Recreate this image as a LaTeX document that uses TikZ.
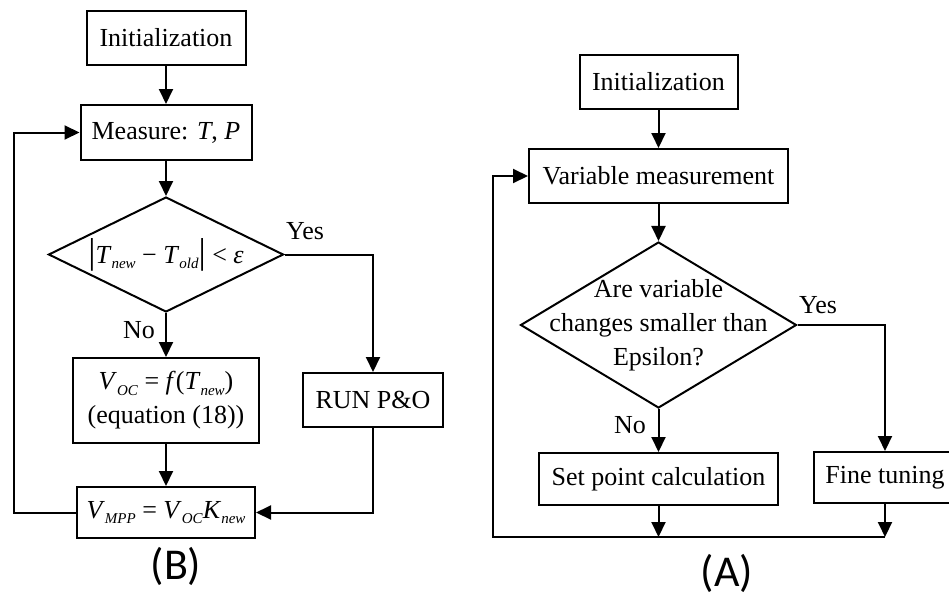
\documentclass[tikz,border=0pt]{standalone}
\usepackage{fontspec}
\setmainfont{Liberation Serif}
\newfontfamily\capfont{Carlito}
\usetikzlibrary{shapes.geometric,arrows.meta}

\tikzset{
  box/.style={rectangle,draw,line width=2pt,align=center,inner sep=0pt},
  decision/.style={diamond,draw,line width=2pt,inner sep=0pt},
  flow/.style={line width=2pt,-{Triangle[length=15pt,width=14pt]}},
}
\newcommand{\sub}[2]{\textit{#1}\raisebox{-0.22em}{\fontsize{15}{15}\selectfont\textit{#2}}}

\begin{document}
\begin{tikzpicture}[x=1pt,y=-1pt,font=\fontsize{26}{34}\selectfont]
\useasboundingbox (0,0) rectangle (949,597);

% ---- (B) ----
\begin{scope}[every node/.append style={box}]
	\node[minimum width=159,minimum height=54] (initB) at (166,38) {Initialization};
	\node[minimum width=171,minimum height=55] (measB) at (166,132.5) {Measure: \textit{T}, \textit{P}};
	\node[decision,minimum width=235,minimum height=115] (decB) at (166,254.5) {};
	\node[minimum width=186,minimum height=85] (vocB) at (166,400.5) {\sub{V}{OC} = \textit{f}(\sub{T}{new})\\(equation (18))};
	\node[minimum width=140,minimum height=54] (runB) at (373,400) {RUN P\&O};
	\node[minimum width=178,minimum height=51] (vmppB) at (166,512.5) {\sub{V}{MPP} = \sub{V}{OC}\sub{K}{new}};
\end{scope}
\node (decBtxt) at (decB.center) {{\fontsize{36}{36}\selectfont|}\sub{T}{new} − \sub{T}{old}{\fontsize{36}{36}\selectfont|} < \textit{ε}};
\node (yesB) at (305,231) {Yes};
\node (noB) at (139,330) {No};
\coordinate (loopB) at (14,0);

\draw[flow] (initB) -- (measB);
\draw[flow] (measB) -- (decB);
\draw[flow] (decB.south) -- (vocB.north);
\draw[flow] (decB.east) -| (runB.north);
\draw[flow] (vocB) -- (vmppB);
\draw[flow] (runB.south) |- (vmppB.east);
\draw[flow] (vmppB.west) -- (vmppB.west -| loopB) |- (measB.west);

\node[font=\capfont\fontsize{44}{44}\selectfont] (capB) at (176,566) {(B)};

% ---- (A) ----
\begin{scope}[every node/.append style={box}]
	\node[minimum width=158,minimum height=54] (initA) at (658.5,82) {Initialization};
	\node[minimum width=259,minimum height=54] (measA) at (658.5,176) {Variable measurement};
	\node[decision,minimum width=276,minimum height=166] (decA) at (658.5,325) {};
	\node[minimum width=239,minimum height=52] (setA) at (658.5,479) {Set point calculation};
	\node[minimum width=142,minimum height=51] (fineA) at (885,477.5) {Fine tuning};
\end{scope}
\node[align=center] (decAtxt) at (decA.center) {Are variable\\changes smaller than\\Epsilon?};
\node (yesA) at (818,305) {Yes};
\node (noA) at (630,425) {No};
\coordinate (loopA) at (493,537);

\draw[flow] (initA) -- (measA);
\draw[flow] (measA) -- (decA);
\draw[flow] (decA.south) -- (setA.north);
\draw[flow] (decA.east) -| (fineA.north);
\draw[flow] (setA.south) -- (setA.south |- loopA);
\draw[flow] (fineA.south) -- (fineA.south |- loopA);
\draw[flow] (fineA.south |- loopA) -- (loopA) |- (measA.west);

\node[font=\capfont\fontsize{44}{44}\selectfont] (capA) at (727,573) {(A)};
\end{tikzpicture}
\end{document}
